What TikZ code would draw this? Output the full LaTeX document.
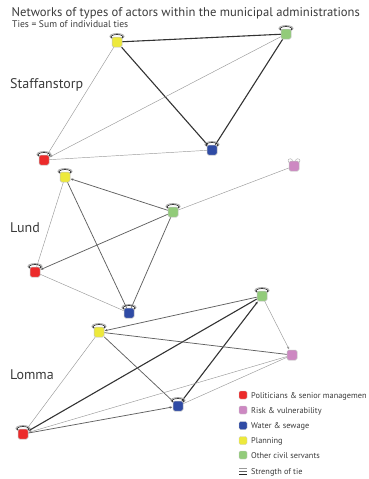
\documentclass[tikz,border=0pt]{standalone}
\usepackage{fontspec}
\setmainfont{PT Sans}
\usetikzlibrary{arrows.meta,backgrounds,calc}

\definecolor{cRed}{HTML}{EC2A2A}
\definecolor{cPink}{HTML}{CD88C2}
\definecolor{cBlue}{HTML}{2F4BA5}
\definecolor{cYellow}{HTML}{EDE93C}
\definecolor{cGreen}{HTML}{92CB7A}
\definecolor{cText}{HTML}{3A3A3A}

\tikzset{
  actor/.style={rectangle, rounded corners=1.6pt, minimum size=10pt, inner sep=0pt,
                draw=black!25, line width=0.5pt},
  tiethick/.style={draw=black!80, line width=1.1pt},
  tiemid/.style={draw=black!62, line width=0.75pt},
  tiethin/.style={draw=black!40, line width=0.45pt},
  tip/.style={-{Latex[length=3pt,width=2.4pt]}},
  selftie/.style={draw=black!85, line width=0.7pt},
  selfhalo/.style={draw=black!35, line width=0.6pt},
  town/.style={anchor=base west, font=\fontsize{14}{16}\selectfont, text=cText, inner sep=0pt},
  legtext/.style={anchor=base west, font=\fontsize{8.3}{10}\selectfont, text=cText, inner sep=0pt},
  legkey/.style={rectangle, rounded corners=1.4pt, minimum size=8pt, inner sep=0pt,
                 draw=black!20, line width=0.4pt}
}

% self-tie loop sitting on top of an actor box
\newcommand{\selfloop}[1]{%
  \draw[selfhalo] ($(#1.north)+(0,-0.4)$) ellipse (7.2 and 2.9);
  \draw[selftie] ($(#1.north)+(0,0)$) ellipse (6.2 and 2.2);
}
\newcommand{\earloop}[1]{%
  \draw[black!30, line width=0.5pt] ($(#1.north west)+(1.5,0)$) ellipse (2.2 and 2);
  \draw[black!30, line width=0.5pt] ($(#1.north east)+(-1.5,0)$) ellipse (2.2 and 2);
}

\begin{document}
\begin{tikzpicture}[x=1pt, y=-1pt]
\useasboundingbox (0,0) rectangle (368,479);

% headings
\node[anchor=base west, inner sep=0pt, font=\fontsize{12.6}{14}\selectfont, text=cText]
  (title) at (11.5,16.8) {Networks of types of actors within the municipal administrations};
\node[anchor=base west, inner sep=0pt, font=\fontsize{9.6}{11}\selectfont, text=cText]
  (subtitle) at (12,27.5) {Ties = Sum of individual ties};

% ---------------- Staffanstorp ----------------
\node[town] (tStaff) at (10,88.3) {Staffanstorp};
\node[actor, fill=cYellow] (sY) at (117,42) {};
\node[actor, fill=cGreen]  (sG) at (286,34) {};
\node[actor, fill=cBlue]   (sB) at (212,150) {};
\node[actor, fill=cRed]    (sR) at (44,160) {};

% ---------------- Lund ----------------
\node[town] (tLund) at (10,232.7) {Lund};
\node[actor, fill=cPink]   (lP) at (294,166) {};
\node[actor, fill=cYellow] (lY) at (65,177) {};
\node[actor, fill=cGreen]  (lG) at (173,212) {};
\node[actor, fill=cRed]    (lR) at (35,272) {};
\node[actor, fill=cBlue]   (lB) at (129,313) {};

% ---------------- Lomma ----------------
\node[town] (tLomma) at (10,379.3) {Lomma};
\node[actor, fill=cGreen]  (mG) at (262,296) {};
\node[actor, fill=cYellow] (mY) at (99,332) {};
\node[actor, fill=cPink]   (mP) at (292,355) {};
\node[actor, fill=cBlue]   (mB) at (178,406) {};
\node[actor, fill=cRed]    (mR) at (23,434) {};

\begin{scope}[on background layer]
  % Staffanstorp ties
  \draw[tiethick] (sY) -- (sG);
  \draw[tiethick] (sY) -- (sB);
  \draw[tiethick] (sG) -- (sB);
  \draw[tiethin]  (sY) -- (sR);
  \draw[tiethin, tip] (sG) -- (sR);
  \draw[tiethin]  (sB) -- (sR);
  % Lund ties
  \draw[tiemid, tip] (lG) -- (lY);
  \draw[tiethin] (lG) -- (lP);
  \draw[tiethin] (lY) -- (lR);
  \draw[tiemid]  (lY) -- (lB);
  \draw[tiemid, tip] (lG) -- (lR);
  \draw[tiemid]  (lG) -- (lB);
  \draw[tiethin] (lR) -- (lB);
  % Lomma ties
  \draw[tiemid, tip]  (mG) -- (mY);
  \draw[tiethin, tip] (mG) -- (mP);
  \draw[tiethick, tip] (mG) -- (mR);
  \draw[tiethick, tip] (mB) -- (mG);
  \draw[tiemid]  (mY) -- (mP);
  \draw[tiethin] (mY) -- (mR);
  \draw[tiemid]  (mY) -- (mB);
  \draw[tiethin, tip] (mP) -- (mR);
  \draw[tiethin] (mP) -- (mB);
  \draw[tiemid, tip] (mR) -- (mB);

  % self ties
  \selfloop{sY} \selfloop{sG} \selfloop{sB} \selfloop{sR}
  \selfloop{lY} \selfloop{lG} \selfloop{lR} \selfloop{lB}
  \selfloop{mG} \selfloop{mY} \selfloop{mB} \selfloop{mR}
  \earloop{lP}
\end{scope}

% ---------------- legend ----------------
\node[legkey, fill=cRed]    (k1) at (243,395) {};
\node[legkey, fill=cPink]   (k2) at (243,410) {};
\node[legkey, fill=cBlue]   (k3) at (243,425.5) {};
\node[legkey, fill=cYellow] (k4) at (243,440.5) {};
\node[legkey, fill=cGreen]  (k5) at (243,455) {};
\node[legtext] (l1) at (251,398) {Politicians \& senior managemen};
\node[legtext] (l2) at (251,413) {Risk \& vulnerability};
\node[legtext] (l3) at (251,428.5) {Water \& sewage};
\node[legtext] (l4) at (251,443.5) {Planning};
\node[legtext] (l5) at (251,458) {Other civil servants};
\coordinate (s0) at (239,468.5);
\coordinate (s1) at (239,471.3);
\coordinate (s2) at (239,474.3);
\draw[black!40, line width=0.45pt] (s0) -- ++(8,0);
\draw[black!62, line width=0.75pt] (s1) -- ++(8,0);
\draw[black!85, line width=1.1pt]  (s2) -- ++(8,0);
\node[legtext] (l6) at (251,474.3) {Strength of tie};
\end{tikzpicture}
\end{document}
